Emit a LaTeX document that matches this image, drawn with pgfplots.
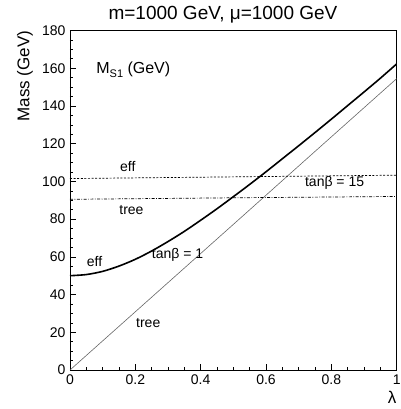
\documentclass[border=0pt]{standalone}
\usepackage{pgfplots}
\pgfplotsset{compat=1.18}
\usepackage{fontspec}
\setmainfont{Liberation Sans}
\begin{document}
\begin{tikzpicture}
\useasboundingbox (-70pt,-39pt) rectangle (330pt,370pt);
\begin{axis}[
  at={(0pt,0pt)}, anchor=south west,
  scale only axis, width=326.7pt, height=339.5pt,
  xmin=0, xmax=1, ymin=0, ymax=180,
  xtick={0,0.2,0.4,0.6,0.8,1},
  xticklabels={0,0.2,0.4,0.6,0.8,1},
  ytick={0,20,...,180},
  minor x tick num=3, minor y tick num=3,
  xtick pos=left, ytick pos=left,
  tick align=inside,
  major tick length=6pt, minor tick length=3pt,
  tick style={black, line width=0.6pt},
  axis line style={line width=0.8pt},
  /pgf/number format/assume math mode=true,
  ticklabel style={font=\fontsize{14}{16}\selectfont},
  xticklabel style={yshift=-1pt},
  yticklabel style={xshift=-1pt},
  clip=true,
]
% eff, tan beta = 1
\addplot[black, line width=1.6pt, smooth] coordinates {
(0,50.0) (0.05,50.6) (0.1,52.3) (0.15,55.1) (0.2,58.7) (0.25,63.1)
(0.3,68.1) (0.35,73.5) (0.4,79.4) (0.45,85.5) (0.5,91.9) (0.55,98.4)
(0.6,105.1) (0.65,112.0) (0.7,118.9) (0.75,125.9) (0.8,133.0)
(0.85,140.2) (0.9,147.4) (0.95,154.7) (1.0,162.3)};
% tree, tan beta = 1
\addplot[black!60, line width=0.6pt] coordinates {
(0,0) (0.25,38.6) (0.5,77.2) (0.75,115.9) (1.0,154.5)};
% eff, tan beta = 15
\addplot[black, line width=0.7pt, dash pattern=on 2pt off 1.6pt] coordinates {
(0,101.5) (0.5,102.4) (1.0,103.3)};
% tree, tan beta = 15
\addplot[black, line width=0.7pt, dash pattern=on 3pt off 1.5pt on 0.8pt off 1.5pt] coordinates {
(0,90.5) (0.5,91.3) (1.0,92.0)};
\node[anchor=base west, font=\fontsize{16}{18}\selectfont, inner sep=0pt] at (axis cs:0.08,157.3) {M\raisebox{-4pt}{\fontsize{11}{12}\selectfont S1} (GeV)};
\node[anchor=base, font=\fontsize{14}{16}\selectfont, inner sep=0pt] at (axis cs:0.177,105) {eff};
\node[anchor=base, font=\fontsize{14}{16}\selectfont, inner sep=0pt] at (axis cs:0.188,82.7) {tree};
\node[anchor=base west, font=\fontsize{14}{16}\selectfont, inner sep=0pt] at (axis cs:0.719,97.2) {tanβ = 15};
\node[anchor=base west, font=\fontsize{14}{16}\selectfont, inner sep=0pt] at (axis cs:0.25,59.2) {tanβ = 1};
\node[anchor=base west, font=\fontsize{14}{16}\selectfont, inner sep=0pt] at (axis cs:0.051,54.8) {eff};
\node[anchor=base west, font=\fontsize{14}{16}\selectfont, inner sep=0pt] at (axis cs:0.202,22.4) {tree};
\end{axis}
\node[anchor=base, font=\fontsize{19}{21}\selectfont, inner sep=0pt] at (153pt,350pt) {m=1000 GeV, μ=1000 GeV};
\node[rotate=90, anchor=east, font=\fontsize{17}{19}\selectfont, inner sep=0pt] at (-45pt,339.5pt) {Mass (GeV)};
\node[font=\fontsize{17}{19}\selectfont, inner sep=0pt] at (322pt,-27pt) {λ};
\end{tikzpicture}
\end{document}
